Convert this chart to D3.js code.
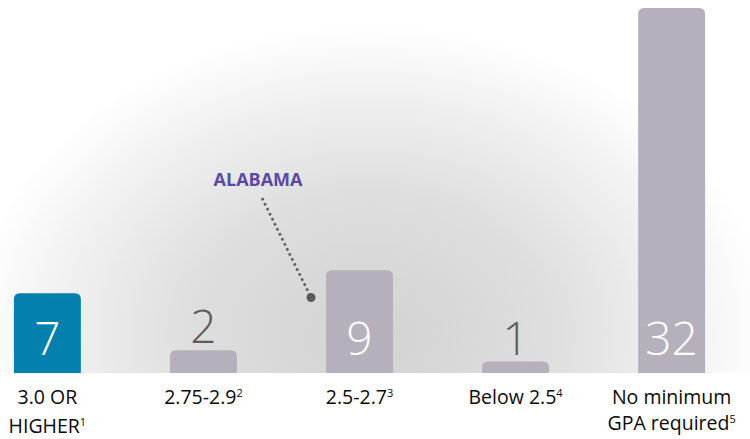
<!DOCTYPE html>
<html>
<head>
<meta charset="utf-8">
<script src="https://cdn.jsdelivr.net/npm/d3@7/dist/d3.min.js"></script>
<style>
  html, body { margin: 0; padding: 0; background: #fff; }
  svg { display: block; }
</style>
</head>
<body>
<div id="chart"></div>
<script>
// ---- data ----
const categories = ["3.0 OR HIGHER", "2.75-2.9", "2.5-2.7", "Below 2.5", "No minimum GPA required"];
const labelLines = [["3.0 OR", "HIGHER"], ["2.75-2.9"], ["2.5-2.7"], ["Below 2.5"], ["No minimum", "GPA required"]];
const footnotes = ["1", "2", "3", "4", "5"];
const values = [7, 2, 9, 1, 32];
const highlighted = ["3.0 OR HIGHER"];
const annotationText = "ALABAMA";
const annotationCategory = "2.5-2.7";

// ---- layout ----
const W = 750, H = 439;
const baseY = 373;
const svg = d3.select("#chart").append("svg").attr("width", W).attr("height", H);

const defs = svg.append("defs");
const grad = defs.append("radialGradient")
  .attr("id", "bg")
  .attr("gradientUnits", "userSpaceOnUse")
  .attr("cx", 0).attr("cy", 0).attr("r", 1)
  .attr("gradientTransform", "translate(370,335) scale(400,310)");
grad.append("stop").attr("offset", 0).attr("stop-color", "#d2d2d2");
grad.append("stop").attr("offset", 0.45).attr("stop-color", "#dedede");
grad.append("stop").attr("offset", 0.8).attr("stop-color", "#f2f2f2");
grad.append("stop").attr("offset", 1).attr("stop-color", "#ffffff");

svg.append("rect").attr("x", 0).attr("y", 0).attr("width", W).attr("height", baseY)
  .attr("fill", "url(#bg)");

const x = d3.scaleBand().domain(categories).range([13.9, 705.1]).paddingInner(0.571).paddingOuter(0);
const y = d3.scaleLinear().domain([0, 32]).range([baseY, 8]);

function topRounded(x0, y0, w, h, r) {
  r = Math.min(r, h, w / 2);
  return `M${x0},${y0 + h}V${y0 + r}Q${x0},${y0} ${x0 + r},${y0}H${x0 + w - r}Q${x0 + w},${y0} ${x0 + w},${y0 + r}V${y0 + h}Z`;
}

const data = categories.map((c, i) => ({ c, v: values[i], lines: labelLines[i], fn: footnotes[i] }));

svg.append("g").selectAll("path").data(data).join("path")
  .attr("d", d => topRounded(x(d.c), y(d.v), x.bandwidth(), baseY - y(d.v), 6))
  .attr("fill", d => highlighted.includes(d.c) ? "#0480ae" : "#b6b0bd");

// value labels
svg.append("g").selectAll("text").data(data).join("text")
  .attr("x", d => x(d.c) + x.bandwidth() / 2)
  .attr("y", d => (y(d.v) < 310 ? 355 : y(d.v) - 7))
  .attr("text-anchor", "middle")
  .attr("font-family", "'Open Sans', sans-serif")
  .attr("font-weight", 300)
  .attr("font-size", 46)
  .attr("fill", d => (y(d.v) < 310 ? "#ffffff" : "#5c5c5c"))
  .text(d => d.v);

// category labels
const lab = svg.append("g").selectAll("text").data(data).join("text")
  .attr("x", d => x(d.c) + x.bandwidth() / 2)
  .attr("y", 404)
  .attr("text-anchor", "middle")
  .attr("font-family", "'Open Sans', sans-serif")
  .attr("font-size", 19.5)
  .attr("fill", "#0a0a0a");
lab.each(function (d, i) {
  const t = d3.select(this);
  const gap = d.lines.length > 1 && i === 0 ? 29 : 26;
  d.lines.forEach((line, j) => {
    t.append("tspan").attr("x", x(d.c) + x.bandwidth() / 2).attr("dy", j === 0 ? 0 : gap).text(line);
    if (j === d.lines.length - 1) {
      t.append("tspan").attr("font-size", 11).attr("dy", -7).text(d.fn);
    }
  });
});

// annotation
const ax = x(annotationCategory);
const dotX = ax - 15, dotY = 297.5;
svg.append("line")
  .attr("x1", ax - 64).attr("y1", 198).attr("x2", dotX).attr("y2", dotY)
  .attr("stroke", "#5e5e5e").attr("stroke-width", 2.6)
  .attr("stroke-dasharray", "2.6,3");
svg.append("circle").attr("cx", dotX).attr("cy", dotY).attr("r", 4.5).attr("fill", "#5a5a5a");
svg.append("text")
  .attr("x", ax - 68).attr("y", 186)
  .attr("text-anchor", "middle")
  .attr("font-family", "'Open Sans', sans-serif")
  .attr("font-weight", 700)
  .attr("font-size", 18)
  .attr("fill", "#5a4aa3")
  .text(annotationText);
</script>
</body>
</html>
